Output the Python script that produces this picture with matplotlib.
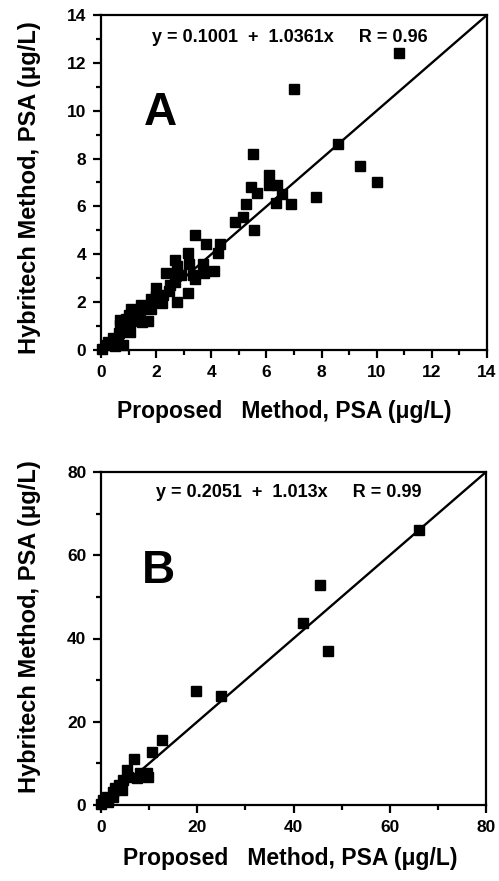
import matplotlib
matplotlib.use("Agg")
import matplotlib.pyplot as plt
from matplotlib.ticker import MultipleLocator

plt.rcParams['font.family'] = ['Liberation Sans', 'DejaVu Sans']
plt.rcParams['font.weight'] = 'bold'

# Panel A data (Proposed vs Hybritech, ug/L)
a_x = [10.8, 7.0, 8.6, 9.4, 10.0, 7.8, 6.9, 5.5, 6.1, 6.4, 6.1, 5.45, 5.65, 6.55, 6.35,
       5.25, 5.15, 5.55, 3.4, 3.8, 4.3, 4.25, 3.15, 3.2, 3.7, 2.7, 2.75, 2.35, 2.75, 3.35,
       3.75, 4.1, 3.4, 2.7, 2.45, 2.0, 2.0, 2.2, 2.25, 1.8, 2.75, 3.15, 1.45, 1.1, 1.8,
       1.4, 1.0, 1.7, 1.5, 1.1, 0.7, 0.8, 1.05, 0.65, 0.45, 0.25, 0.8, 0.5, 0.05, 0.2,
       0.6, 0.9, 0.7, 1.15, 1.3, 1.6, 2.5, 2.9, 4.85]
a_y = [12.4, 10.9, 8.6, 7.7, 7.0, 6.4, 6.1, 8.2, 7.3, 6.9, 6.9, 6.8, 6.55, 6.5, 6.15,
       6.1, 5.55, 5.0, 4.8, 4.45, 4.45, 4.05, 4.05, 3.6, 3.6, 3.75, 3.5, 3.2, 3.2, 3.15,
       3.2, 3.3, 2.95, 2.85, 2.45, 2.6, 2.25, 1.95, 2.3, 2.15, 2.0, 2.4, 1.9, 1.7, 1.7,
       1.55, 1.45, 1.2, 1.15, 1.2, 1.25, 0.9, 0.75, 0.7, 0.5, 0.35, 0.2, 0.15, 0.03, 0.2,
       0.35, 1.3, 1.05, 1.4, 1.6, 1.85, 2.7, 3.15, 5.35]

# Panel B data
b_x = [66.0, 45.6, 42.0, 47.1, 19.7, 24.9, 12.6, 10.5, 6.9, 5.3, 9.5, 9.8, 7.4, 5.7,
       3.7, 2.9, 4.3, 2.4, 1.2, 2.5, 0.5, 0.1, 1.5, 8.1, 4.6]
b_y = [66.0, 52.8, 43.8, 36.9, 27.4, 26.1, 15.6, 12.8, 11.1, 8.5, 7.7, 6.8, 6.4, 6.8,
       4.8, 4.0, 3.6, 3.2, 2.0, 2.0, 1.1, 0.3, 0.8, 7.6, 6.0]

a_fit = [0, 14]
b_fit = [0, 80]

eq_a = "y = 0.1001  +  1.0361x     R = 0.96"
eq_b = "y = 0.2051  +  1.013x     R = 0.99"
xlabel = "Proposed   Method, PSA (\u03bcg/L)"
ylabel = "Hybritech Method, PSA (\u03bcg/L)"

W, H = 499, 881
fig = plt.figure(figsize=(W / 100, H / 100), dpi=100)


def px_axes(l, t, r, b):
    return fig.add_axes([l / W, 1 - b / H, (r - l) / W, (b - t) / H])


def style(ax, lim, major, minor):
    ax.set_xlim(0, lim)
    ax.set_ylim(0, lim)
    ax.xaxis.set_major_locator(MultipleLocator(major))
    ax.yaxis.set_major_locator(MultipleLocator(major))
    ax.xaxis.set_minor_locator(MultipleLocator(minor))
    ax.yaxis.set_minor_locator(MultipleLocator(minor))
    for s in ax.spines.values():
        s.set_linewidth(1.6)
    ax.tick_params(axis='both', which='major', direction='out', length=5.5, width=1.6,
                   labelsize=12.5, top=False, right=False)
    ax.tick_params(axis='both', which='minor', direction='out', length=3.5, width=1.6,
                   top=False, right=False)
    ax.tick_params(axis='x', which='major', pad=5)
    ax.tick_params(axis='y', which='major', pad=5)
    for lab in ax.get_xticklabels() + ax.get_yticklabels():
        lab.set_fontweight('bold')


axA = px_axes(101, 15, 487, 350)
style(axA, 14, 2, 1)
axA.plot(a_fit, a_fit, color='black', lw=1.7, zorder=3)
axA.plot(a_x, a_y, 's', color='black', markersize=6.5, clip_on=False, zorder=4)
axA.text(0.49, 0.934, eq_a, transform=axA.transAxes, ha='center', va='center',
         fontsize=13, fontweight='bold')
axA.text(0.155, 0.707, "A", transform=axA.transAxes, ha='center', va='center',
         fontsize=33, fontweight='bold')

axB = px_axes(101, 472, 486, 805)
style(axB, 80, 20, 10)
axB.plot(b_fit, b_fit, color='black', lw=1.7, zorder=3)
axB.plot(b_x, b_y, 's', color='black', markersize=6.5, clip_on=False, zorder=4)
axB.text(0.487, 0.937, eq_b, transform=axB.transAxes, ha='center', va='center',
         fontsize=13, fontweight='bold')
axB.text(0.148, 0.703, "B", transform=axB.transAxes, ha='center', va='center',
         fontsize=33, fontweight='bold')

# axis labels placed in pixel positions
fig.text(284 / W, 1 - 411 / H, xlabel, ha='center', va='center', fontsize=16.5, fontweight='bold')
fig.text(290 / W, 1 - 858 / H, xlabel, ha='center', va='center', fontsize=16.5, fontweight='bold')
fig.text(30 / W, 1 - 188 / H, ylabel, ha='center', va='center', rotation=90, fontsize=17,
         fontweight='bold')
fig.text(30 / W, 1 - 627 / H, ylabel, ha='center', va='center', rotation=90, fontsize=17,
         fontweight='bold')

fig.savefig("out.png", dpi=100)
